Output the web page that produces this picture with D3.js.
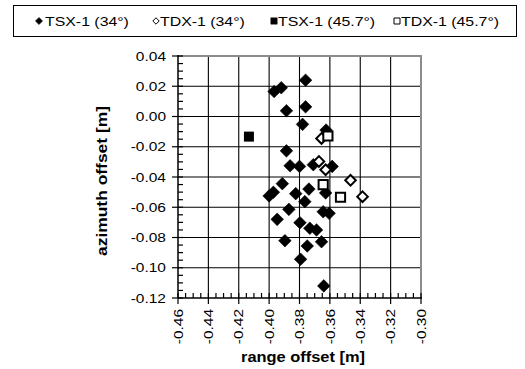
<!DOCTYPE html>
<html>
<head>
<meta charset="utf-8">
<script src="https://cdn.jsdelivr.net/npm/d3@7"></script>
<style>
  body { margin: 0; background: #fff; }
  text { font-family: Arial, "Liberation Sans", sans-serif; fill: #000; }
</style>
</head>
<body>
<svg id="chart" width="525" height="369"></svg>
<script>
// series values: [range offset, azimuth offset] in m
const tsx34 = [
  [-0.376, 0.024], [-0.392, 0.019], [-0.3967, 0.0165], [-0.3886, 0.0038],
  [-0.376, 0.0064], [-0.378, -0.0052], [-0.3625, -0.009], [-0.3886, -0.0227],
  [-0.3862, -0.0326], [-0.380, -0.033], [-0.3709, -0.0319], [-0.3585, -0.033],
  [-0.3913, -0.0444], [-0.3972, -0.0501], [-0.400, -0.0525], [-0.3825, -0.051],
  [-0.3738, -0.048], [-0.3765, -0.0563], [-0.3628, -0.0505], [-0.387, -0.0614],
  [-0.3947, -0.068], [-0.3644, -0.063], [-0.3605, -0.064], [-0.3797, -0.0702],
  [-0.3732, -0.0739], [-0.3688, -0.075], [-0.3896, -0.0821], [-0.3655, -0.0828],
  [-0.3749, -0.0856], [-0.3793, -0.0944], [-0.364, -0.112]
];
const tdx34 = [
  [-0.3655, -0.0145], [-0.3672, -0.0297], [-0.3628, -0.0352],
  [-0.3464, -0.0422], [-0.3385, -0.053]
];
const tsx45 = [[-0.4133, -0.0133]];
const tdx45 = [[-0.3613, -0.0129], [-0.3644, -0.045], [-0.353, -0.0534]];

const legendLabels = ["TSX-1 (34°)", "TDX-1 (34°)", "TSX-1 (45.7°)", "TDX-1 (45.7°)"];
const xTicks = [-0.46, -0.44, -0.42, -0.40, -0.38, -0.36, -0.34, -0.32, -0.30];
const yTicks = [0.04, 0.02, 0.00, -0.02, -0.04, -0.06, -0.08, -0.10, -0.12];

const svg = d3.select("#chart");

const x = d3.scaleLinear().domain([-0.46, -0.30]).range([178, 421]);
const y = d3.scaleLinear().domain([-0.12, 0.04]).range([298, 56]);

// text in the picture is wider than Arial at that height
function stretch(sel, k) {
  sel.each(function () {
    const w = this.getComputedTextLength();
    d3.select(this).attr("textLength", w * k).attr("lengthAdjust", "spacingAndGlyphs");
  });
}

const diamond = (r) => `M0,${-r}L${r},0L0,${r}L${-r},0Z`;
const square = (r) => `M${-r},${-r}H${r}V${r}H${-r}Z`;

// grid
const grid = svg.append("g").attr("stroke", "#000").attr("stroke-width", 1.1);
grid.selectAll(".gx")
  .data(xTicks.slice(1, -1))
  .join("line")
  .attr("x1", (d) => x(d)).attr("x2", (d) => x(d))
  .attr("y1", y(0.04)).attr("y2", y(-0.12));
grid.selectAll(".gy")
  .data(yTicks.slice(1, -1))
  .join("line")
  .attr("x1", x(-0.46)).attr("x2", x(-0.30))
  .attr("y1", (d) => y(d)).attr("y2", (d) => y(d));

// top / right frame in grey
svg.append("path")
  .attr("d", `M${x(-0.46)},${y(0.04)}H${x(-0.30)}V${y(-0.12)}`)
  .attr("fill", "none")
  .attr("stroke", "#8c8c8c")
  .attr("stroke-width", 2);

// axes
const xMinor = d3.range(-0.46, -0.2999, 0.005).filter((d, i) => i % 4 != 0);
const yMinor = d3.range(-0.12, 0.0401, 0.005).filter((d, i) => i % 4 != 0);

const ax = svg.append("g").attr("stroke", "#000").attr("stroke-width", 1.2);
ax.append("line")
  .attr("x1", x(-0.46)).attr("x2", x(-0.46))
  .attr("y1", y(0.04) - 1).attr("y2", y(-0.12))
  .attr("stroke-width", 1.5);
ax.append("line")
  .attr("x1", x(-0.46)).attr("x2", x(-0.30) + 1)
  .attr("y1", y(-0.12)).attr("y2", y(-0.12))
  .attr("stroke-width", 1.5);
ax.selectAll(".ty")
  .data(yTicks)
  .join("line")
  .attr("x1", x(-0.46) - 6).attr("x2", x(-0.46) + 5)
  .attr("y1", (d) => y(d)).attr("y2", (d) => y(d));
ax.selectAll(".tym")
  .data(yMinor)
  .join("line")
  .attr("x1", x(-0.46)).attr("x2", x(-0.46) + 5)
  .attr("y1", (d) => y(d)).attr("y2", (d) => y(d));
ax.selectAll(".tx")
  .data(xTicks)
  .join("line")
  .attr("x1", (d) => x(d)).attr("x2", (d) => x(d))
  .attr("y1", y(-0.12) - 5).attr("y2", y(-0.12) + 6);
ax.selectAll(".txm")
  .data(xMinor)
  .join("line")
  .attr("x1", (d) => x(d)).attr("x2", (d) => x(d))
  .attr("y1", y(-0.12) - 5).attr("y2", y(-0.12));

// tick labels
const yLab = svg.append("g")
  .style("font-size", "13px")
  .selectAll("text")
  .data(yTicks)
  .join("text")
  .attr("x", 166)
  .attr("y", (d) => y(d) + 4.7)
  .attr("text-anchor", "end")
  .text((d) => d3.format(".2f")(d).replace("−", "-"));
stretch(yLab, 1.19);

const xLab = svg.append("g")
  .style("font-size", "13px")
  .selectAll("text")
  .data(xTicks)
  .join("text")
  .attr("text-anchor", "end")
  .attr("transform", (d) => `translate(${x(d) + 4.7},309) rotate(-90)`)
  .text((d) => d3.format(".2f")(d).replace("−", "-"));
stretch(xLab, 1.19);

// axis titles
svg.append("text")
  .attr("text-anchor", "middle")
  .attr("transform", `translate(107,181) rotate(-90)`)
  .style("font-size", "14px")
  .style("font-weight", "700")
  .attr("textLength", 150)
  .attr("lengthAdjust", "spacingAndGlyphs")
  .text("azimuth offset [m]");

svg.append("text")
  .attr("text-anchor", "middle")
  .attr("x", 303)
  .attr("y", 362)
  .style("font-size", "14px")
  .style("font-weight", "700")
  .attr("textLength", 124)
  .attr("lengthAdjust", "spacingAndGlyphs")
  .text("range offset [m]");

// data marks
const plot = svg.append("g");
plot.selectAll(".tsx34")
  .data(tsx34)
  .join("path")
  .attr("d", diamond(6.3))
  .attr("transform", (d) => `translate(${x(d[0])},${y(d[1])})`)
  .attr("fill", "#000").attr("stroke", "#000").attr("stroke-width", 0.6);
plot.selectAll(".tdx34")
  .data(tdx34)
  .join("path")
  .attr("d", diamond(5.3))
  .attr("transform", (d) => `translate(${x(d[0])},${y(d[1])})`)
  .attr("fill", "#fff").attr("stroke", "#000").attr("stroke-width", 2);
plot.selectAll(".tsx45")
  .data(tsx45)
  .join("path")
  .attr("d", square(5))
  .attr("transform", (d) => `translate(${x(d[0])},${y(d[1])})`)
  .attr("fill", "#000");
plot.selectAll(".tdx45")
  .data(tdx45)
  .join("path")
  .attr("d", square(4.6))
  .attr("transform", (d) => `translate(${x(d[0])},${y(d[1])})`)
  .attr("fill", "#fff").attr("stroke", "#000").attr("stroke-width", 2);

// legend
svg.append("rect")
  .attr("x", 13.5).attr("y", 5.5)
  .attr("width", 503).attr("height", 31)
  .attr("fill", "#fff")
  .attr("stroke", "#000")
  .attr("stroke-width", 1);

const legX = [39, 156, 274, 397];
const legMarks = [
  { d: diamond(3.6), fill: "#000", sw: 0.5 },
  { d: diamond(3.2), fill: "#fff", sw: 1 },
  { d: square(3.2), fill: "#000", sw: 0.5 },
  { d: square(3), fill: "#fff", sw: 1 }
];
const leg = svg.append("g")
  .selectAll("g")
  .data(legendLabels)
  .join("g")
  .attr("transform", (d, i) => `translate(${legX[i]},21)`);
leg.append("path")
  .attr("d", (d, i) => legMarks[i].d)
  .attr("fill", (d, i) => legMarks[i].fill)
  .attr("stroke", "#000")
  .attr("stroke-width", (d, i) => legMarks[i].sw);
const legText = leg.append("text")
  .attr("x", (d, i) => (i == 0 ? 6 : 4))
  .attr("y", 4.7)
  .style("font-size", "13px")
  .text((d) => d);
stretch(legText, 1.22);
</script>
</body>
</html>
